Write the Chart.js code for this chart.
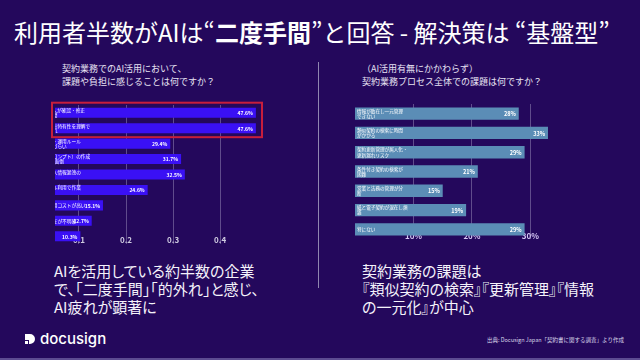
<!DOCTYPE html>
<html lang="ja">
<head>
<meta charset="utf-8">
<script src="https://cdn.jsdelivr.net/npm/chart.js@4.4.0/dist/chart.umd.min.js"></script>
<style>
  html, body { margin: 0; padding: 0; }
  body {
    width: 640px; height: 360px; position: relative; overflow: hidden;
    background: #24085c; color: #fff;
    font-family: 'Noto Sans CJK JP', 'Noto Sans', sans-serif;
  }
  .abs { position: absolute; }
  #title { left: 14px; top: 19px; font-size: 24px; line-height: 26px; white-space: nowrap; }
  #title b { font-weight: 700; }
  .question { font-size: 9px; line-height: 13px; color: #e8e4f4; white-space: nowrap; }
  #qLeft { left: 62px; top: 62px; }
  #qRight { left: 362px; top: 62px; }
  #divider { left: 318px; top: 62px; width: 1px; height: 226px; background: #8f86b0; }
  .summary { font-size: 15px; line-height: 18px; white-space: nowrap; font-feature-settings: "palt"; color: #f4f2fa; }
  #sumLeft { left: 54px; top: 262px; }
  #sumRight { left: 362px; top: 262px; }
  #logo { left: 24px; top: 329px; display: flex; align-items: center; gap: 4px; font-family: 'Inter', sans-serif; font-size: 15px; font-weight: 500; }
  #source { right: 16px; top: 336px; font-size: 5.5px; color: #d8d4e8; white-space: nowrap; }
  #edge { left: 0; bottom: 0; width: 640px; height: 2px; background: #5d4b92; }
  canvas { position: absolute; }
  #leftChart { left: 40px; top: 98px; }
  #rightChart { left: 345px; top: 96px; }
</style>
</head>
<body>
<div id="title" class="abs">利用者半数がAIは“<b>二度手間</b>”と回答 - 解決策は “基盤型”</div>
<div id="qLeft" class="abs question">契約業務でのAI活用において、<br>課題や負担に感じることは何ですか？</div>
<div id="qRight" class="abs question">（AI活用有無にかかわらず）<br>契約業務プロセス全体での課題は何ですか？</div>
<div id="divider" class="abs"></div>
<canvas id="leftChart" width="226" height="147"></canvas>
<canvas id="rightChart" width="215" height="144"></canvas>
<div id="sumLeft" class="abs summary">AIを活用している約半数の企業<br>で､｢二度手間｣｢的外れ｣と感じ､<br>AI疲れが顕著に</div>
<div id="sumRight" class="abs summary">契約業務の課題は<br>『類似契約の検索』『更新管理』『情報<br>の一元化』が中心</div>
<div id="logo" class="abs">
  <svg width="12" height="12" viewBox="0 0 12 12"><path d="M1 1h5a5 5 0 0 1 0 10H5V7H1z" fill="#fff"/><rect x="1" y="8" width="3" height="3" fill="#fff"/></svg>
  <span>docusign</span>
</div>
<div id="source" class="abs">出典: Docusign Japan「契約書に関する調査」より作成</div>
<div id="edge" class="abs"></div>

<script>
const leftLabels = [
  'AI結果を人が確認・修正\nし二度手間',
  '業務や自社特有性を理解で\nきず的外れ',
  '出力基準・運用ルール\nが分かりづらい',
  '指示（プロンプト）の作成\nが難しい/面倒',
  '機密・個人情報漏洩の\n懸念',
  '複数ツール利用で作業\nが分断',
  '導入・利用コストが高い',
  '責任の所在が不明確',
  '特にない'
];
const leftValues = [0.476, 0.476, 0.294, 0.317, 0.325, 0.246, 0.151, 0.127, 0.103];
const leftTicks = [0.1, 0.2, 0.3, 0.4];

const rightLabels = [
  '情報が散在し一元管理\nできない',
  '類似契約の検索に時間\nがかかる',
  '契約更新管理が属人化・\n更新漏れリスク',
  '条件付き契約の検索が\n困難',
  '営業と法務の管理が分\n断',
  '紙と電子契約が混在し煩\n雑',
  '特にない'
];
const rightValues = [28, 33, 29, 21, 15, 19, 29];
const rightTicks = [10, 20, 30];

Chart.defaults.font.family = "'Noto Sans CJK JP', 'Noto Sans', sans-serif";

// category text at the start of each bar, value at its end
// (the left chart is cut off a little right of zero, like the source image)
const barText = {
  id: 'barText',
  afterDatasetsDraw(chart, args, opts) {
    const ctx = chart.ctx;
    const area = chart.chartArea;
    const meta = chart.getDatasetMeta(0);
    const data = chart.data.datasets[0].data;
    const x0 = chart.scales.x.getPixelForValue(0) + 2;
    ctx.save();
    ctx.beginPath();
    ctx.rect(area.left, area.top - 10, area.width + 10, area.height + 10);
    ctx.clip();
    ctx.fillStyle = '#ffffff';
    ctx.textBaseline = 'middle';
    meta.data.forEach((bar, i) => {
      const lines = opts.labels[i].split('\n');
      ctx.font = opts.labelFont;
      ctx.textAlign = 'left';
      const y0 = bar.y - (lines.length - 1) * opts.lineHeight / 2;
      lines.forEach((l, j) => ctx.fillText(l, x0, y0 + j * opts.lineHeight));
      ctx.font = opts.valueFont;
      ctx.textAlign = 'right';
      ctx.fillText(opts.format(data[i]), bar.x - 3, bar.y + 0.5);
    });
    ctx.restore();
  }
};

// red frame around the two top answers
const highlight = {
  id: 'highlight',
  afterDraw(chart, args, opts) {
    if (!opts.rows) return;
    const meta = chart.getDatasetMeta(0);
    const first = meta.data[opts.rows[0]];
    const last = meta.data[opts.rows[1]];
    const area = chart.chartArea;
    const ctx = chart.ctx;
    ctx.save();
    ctx.strokeStyle = '#c81e3c';
    ctx.lineWidth = 2;
    const top = first.y - first.height / 2 - 5;
    const bottom = last.y + last.height / 2 + 4;
    ctx.strokeRect(area.left - 3, top, area.width + 3, bottom - top);
    ctx.restore();
  }
};

function makeChart(id, labels, values, ticks, opt) {
  return new Chart(document.getElementById(id), {
    type: 'bar',
    data: {
      labels,
      datasets: [{
        data: values,
        backgroundColor: opt.color,
        barPercentage: opt.barPct,
        categoryPercentage: 1
      }]
    },
    options: {
      indexAxis: 'y',
      responsive: false,
      animation: false,
      layout: { padding: opt.padding },
      plugins: {
        legend: { display: false },
        tooltip: { enabled: false },
        barText: {
          labels,
          labelFont: opt.labelFont,
          valueFont: opt.valueFont,
          lineHeight: opt.lineHeight,
          format: opt.format
        },
        highlight: { rows: opt.highlight }
      },
      scales: {
        y: { display: false, grid: { display: false } },
        x: {
          min: opt.min,
          max: opt.max,
          afterBuildTicks: (s) => { s.ticks = ticks.map((v) => ({ value: v })); },
          afterFit: (s) => { s.height = 1; },
          border: { display: false },
          grid: { color: opt.gridColor, drawTicks: false },
          ticks: {
            mirror: true,
            autoSkip: false,
            maxRotation: 0,
            padding: opt.tickPad,
            color: opt.tickColor,
            font: { size: 8, weight: 'bold' },
            callback: opt.tickFormat
          }
        }
      }
    },
    plugins: [barText, highlight]
  });
}

makeChart('leftChart', leftLabels, leftValues, leftTicks, {
  color: '#3a10f5',
  barPct: 0.65,
  padding: { left: 15, right: 4, top: 7, bottom: 0 },
  min: 0.049,
  max: 0.489,
  tickPad: -1,
  tickColor: '#cfcbe0',
  gridColor: 'rgba(170,160,200,0.45)',
  labelFont: '4.7px "Noto Sans CJK JP"',
  valueFont: 'bold 5px "Noto Sans CJK JP"',
  lineHeight: 4.8,
  format: (v) => (v * 100).toFixed(1) + '%',
  tickFormat: (v) => Number(v).toFixed(1),
  highlight: [0, 1]
});

makeChart('rightChart', rightLabels, rightValues, rightTicks, {
  color: '#5b8db6',
  barPct: 0.64,
  padding: { left: 10, right: 5, top: 8, bottom: 0 },
  min: 0,
  max: 34.2,
  tickPad: -2,
  tickColor: '#d6c8f4',
  gridColor: 'rgba(170,160,200,0.45)',
  labelFont: '4.6px "Noto Sans CJK JP"',
  valueFont: 'bold 5.5px "Noto Sans CJK JP"',
  lineHeight: 5.2,
  format: (v) => v + '%',
  tickFormat: (v) => v + '%',
  highlight: null
});
</script>
</body>
</html>
